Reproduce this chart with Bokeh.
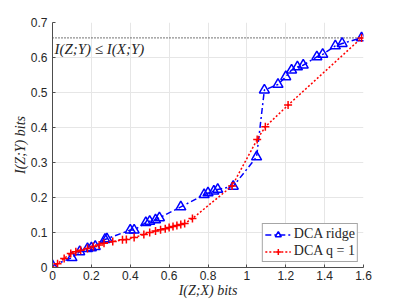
from bokeh.plotting import figure
from bokeh.models import FixedTicker, Legend, LegendItem, Label
from bokeh.embed import file_html
from bokeh.resources import INLINE

# DCA ridge (blue)
ridge_x = [0.0, 0.10, 0.14, 0.18, 0.20, 0.22, 0.27, 0.28, 0.40, 0.42, 0.48, 0.50, 0.53, 0.55,
           0.66, 0.78, 0.80, 0.83, 0.85, 0.93, 1.05, 1.09, 1.16, 1.20, 1.23, 1.26, 1.29, 1.36,
           1.39, 1.455, 1.49, 1.59]
ridge_y = [0.005, 0.028, 0.045, 0.054, 0.056, 0.060, 0.080, 0.082, 0.107, 0.107, 0.128, 0.132,
           0.136, 0.142, 0.173, 0.208, 0.213, 0.218, 0.223, 0.232, 0.316, 0.507, 0.523, 0.545,
           0.564, 0.573, 0.578, 0.602, 0.609, 0.633, 0.640, 0.656]

# DCA q = 1 (red)
q1_x = [0.0, 0.026, 0.06, 0.094, 0.12, 0.145, 0.18, 0.21, 0.24, 0.265, 0.31, 0.36, 0.38, 0.42,
        0.47, 0.50, 0.53, 0.556, 0.58, 0.60, 0.62, 0.64, 0.66, 0.68, 0.72, 0.924, 1.053, 1.095,
        1.212, 1.59]
q1_y = [0.0, 0.011, 0.026, 0.040, 0.045, 0.049, 0.054, 0.060, 0.064, 0.069, 0.074, 0.079, 0.080,
        0.086, 0.094, 0.100, 0.104, 0.108, 0.111, 0.114, 0.117, 0.120, 0.123, 0.126, 0.140,
        0.233, 0.366, 0.402, 0.464, 0.656]

# bound I(X;Y)
ixy = 0.656
bound_x = [0.0, 1.6]

x_ticks = [0, 0.2, 0.4, 0.6, 0.8, 1.0, 1.2, 1.4, 1.6]
x_tick_labels = ["0", "0.2", "0.4", "0.6", "0.8", "1", "1.2", "1.4", "1.6"]
y_ticks = [0, 0.1, 0.2, 0.3, 0.4, 0.5, 0.6, 0.7]
y_tick_labels = ["0", "0.1", "0.2", "0.3", "0.4", "0.5", "0.6", "0.7"]

serif = "Liberation Serif"
sans = "Liberation Sans"
axis_col = "#4d4d4d"

p = figure(width=400, height=300, output_backend="svg", toolbar_location=None,
           x_range=(0, 1.6), y_range=(0, 0.7),
           min_border_left=52, min_border_right=37, min_border_top=22, min_border_bottom=33)
p.outline_line_color = None
p.background_fill_color = "white"
p.border_fill_color = "white"

for ax, ticks, labels in ((p.xaxis, x_ticks, x_tick_labels), (p.yaxis, y_ticks, y_tick_labels)):
    ax.ticker = FixedTicker(ticks=ticks)
    ax.major_label_overrides = {t: l for t, l in zip(ticks, labels)}
    ax.minor_tick_line_color = None
    ax.major_tick_in = 3
    ax.major_tick_out = 0
    ax.axis_line_color = axis_col
    ax.major_tick_line_color = axis_col
    ax.major_label_text_font = sans
    ax.major_label_text_font_size = "12px"
    ax.major_label_text_color = "#262626"
    ax.axis_label_text_font = serif
    ax.axis_label_text_font_size = "14px"
    ax.axis_label_text_font_style = "italic"
    ax.axis_label_text_color = "#262626"

p.xaxis.major_label_standoff = 3
p.yaxis.major_label_standoff = 5
p.xaxis.axis_label = "I(Z;X) bits"
p.yaxis.axis_label = "I(Z;Y) bits"
p.xaxis.axis_label_standoff = 0
p.yaxis.axis_label_standoff = 0

p.xgrid.grid_line_color = "#e6e6e6"
p.ygrid.grid_line_color = "#e6e6e6"

# bound line
p.line(bound_x, [ixy, ixy], line_color="#222222", line_width=1.2, line_dash="1 2")
p.add_layout(Label(x=0.01, y=ixy - 0.008, text="I(Z;Y) ≤ I(X;Y)", text_font=serif,
                   text_font_size="15px", text_font_style="italic", text_color="#262626",
                   text_baseline="top", text_align="left"))

l1 = p.line(ridge_x, ridge_y, line_color="blue", line_width=1.5, line_dash="6 3 2 3")
m1 = p.scatter(ridge_x, ridge_y, marker="triangle", size=10, fill_color=None,
               line_color="blue", line_width=1.5)
l2 = p.line(q1_x, q1_y, line_color="red", line_width=1.5, line_dash="2 2")
m2 = p.scatter(q1_x, q1_y, marker="cross", size=8, line_color="red", line_width=1.5)

legend = Legend(items=[LegendItem(label="DCA ridge", renderers=[l1, m1]),
                       LegendItem(label="DCA q = 1", renderers=[l2, m2])],
                location="bottom_right")
legend.label_text_font = serif
legend.label_text_font_size = "14px"
legend.label_text_color = "#262626"
legend.border_line_color = axis_col
legend.border_line_width = 1
legend.background_fill_alpha = 1
legend.glyph_width = 26
legend.glyph_height = 15
legend.label_height = 15
legend.spacing = 1
legend.padding = 2
legend.margin = 5
legend.label_standoff = 3
p.add_layout(legend)

open("out.html", "w").write(file_html(p, INLINE))
